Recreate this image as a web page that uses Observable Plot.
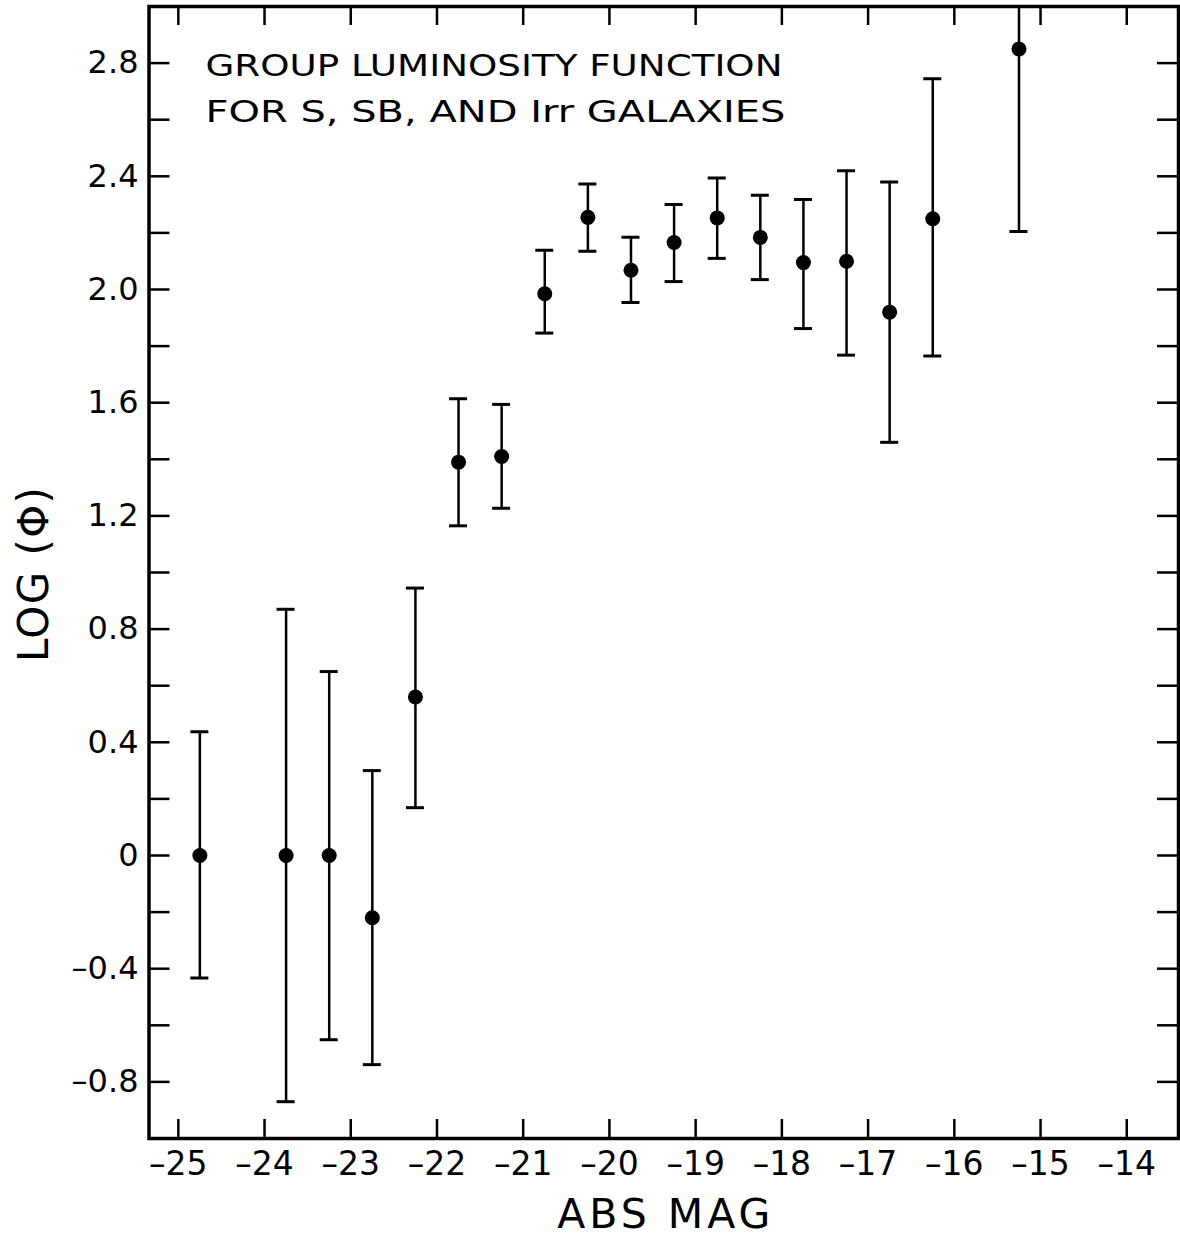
<!DOCTYPE html>
<html>
<head>
<meta charset="utf-8">
<script src="https://cdn.jsdelivr.net/npm/d3@7"></script>
<script src="https://cdn.jsdelivr.net/npm/@observablehq/plot@0.6"></script>
<style>
  html, body { margin: 0; padding: 0; background: #fff; }
  #chart svg { display: block; }
</style>
</head>
<body>
<div id="chart"></div>
<script>
// ---- data ----
const absMag = [-24.75, -23.75, -23.25, -22.75, -22.25, -21.75, -21.25, -20.75, -20.25,
                -19.75, -19.25, -18.75, -18.25, -17.75, -17.25, -16.75, -16.25, -15.25];
const logPhi = [0, 0, 0, -0.22, 0.56, 1.39, 1.41, 1.985, 2.255,
                2.068, 2.166, 2.253, 2.184, 2.095, 2.10, 1.92, 2.25, 2.85];
const errHigh = [0.437, 0.87, 0.65, 0.30, 0.945, 1.614, 1.594, 2.139, 2.373,
                 2.185, 2.30, 2.394, 2.333, 2.318, 2.42, 2.38, 2.745, 3.5];
const errLow = [-0.433, -0.87, -0.651, -0.739, 0.169, 1.165, 1.227, 1.846, 2.135,
                1.954, 2.028, 2.11, 2.035, 1.862, 1.768, 1.46, 1.765, 2.205];

const xTicks = [-25, -24, -23, -22, -21, -20, -19, -18, -17, -16, -15, -14];
const yLabelTicks = [-0.8, -0.4, 0, 0.4, 0.8, 1.2, 1.6, 2.0, 2.4, 2.8];
const yMinorTicks = [-0.8, -0.6, -0.4, -0.2, 0, 0.2, 0.4, 0.6, 0.8, 1.0, 1.2, 1.4, 1.6,
                     1.8, 2.0, 2.2, 2.4, 2.6, 2.8];
const xDomain = [-25.34, -13.4];
const yDomain = [-1, 3];

const titleLine1 = "GROUP LUMINOSITY FUNCTION";
const titleLine2 = "FOR S, SB, AND Irr GALAXIES";
const xLabel = "ABS MAG";
const yLabel = "LOG (\u03A6)";

const points = absMag.map((m, i) => ({x: m, y: logPhi[i], hi: errHigh[i], lo: errLow[i]}));

const fmtX = d => String(d).replace("-", "\u2013");
const fmtY = d => d === 0 ? "0" : d.toFixed(1).replace("-", "\u2013");

const font = "DejaVu Sans";

const chart = Plot.plot({
  width: 1180,
  height: 1238,
  marginLeft: 148.5,
  marginRight: 2,
  marginTop: 6,
  marginBottom: 100,
  style: {fontFamily: font, background: "white", color: "black"},
  x: {domain: xDomain, axis: null},
  y: {domain: yDomain, axis: null},
  marks: [
    Plot.frame({stroke: "black", strokeWidth: 3.5}),
    // inward ticks: bottom and top
    Plot.ruleX(xTicks, {x: d => d, y1: yDomain[0], y2: yDomain[0], insetTop: -19, stroke: "black", strokeWidth: 2.5}),
    Plot.ruleX(xTicks, {x: d => d, y1: yDomain[1], y2: yDomain[1], insetBottom: -19, stroke: "black", strokeWidth: 2.5}),
    // inward ticks: left and right
    Plot.ruleY(yMinorTicks, {y: d => d, x1: xDomain[0], x2: xDomain[0], insetRight: -21, stroke: "black", strokeWidth: 2.5}),
    Plot.ruleY(yMinorTicks, {y: d => d, x1: xDomain[1], x2: xDomain[1], insetLeft: -21, stroke: "black", strokeWidth: 2.5}),
    // tick labels
    Plot.axisX({ticks: xTicks, tickSize: 0, tickPadding: 13, tickFormat: fmtX, fontSize: 33, label: null}),
    Plot.axisY({ticks: yLabelTicks, tickSize: 0, tickPadding: 10.5, tickFormat: fmtY, fontSize: 32, label: null}),
    // error bars
    Plot.ruleX(points, {x: "x", y1: "lo", y2: "hi", stroke: "black", strokeWidth: 2.5, clip: true}),
    Plot.ruleY(points, {y: "hi", x1: "x", x2: "x", insetLeft: -9, insetRight: -9, stroke: "black", strokeWidth: 3, clip: true}),
    Plot.ruleY(points, {y: "lo", x1: "x", x2: "x", insetLeft: -9, insetRight: -9, stroke: "black", strokeWidth: 3, clip: true}),
    Plot.dot(points, {x: "x", y: "y", r: 7.5, fill: "black", stroke: null}),
    // annotation
    Plot.text([titleLine1], {text: d => d, frameAnchor: "top-left", textAnchor: "start", lineAnchor: "top",
      dx: 56.5, dy: 47, fontSize: 31, fill: "black"}),
    Plot.text([titleLine2], {text: d => d, frameAnchor: "top-left", textAnchor: "start", lineAnchor: "top",
      dx: 56.5, dy: 93, fontSize: 31, fill: "black"}),
    // axis titles
    Plot.text([xLabel], {text: d => d, frameAnchor: "bottom", textAnchor: "middle", lineAnchor: "top",
      dy: 60, fontSize: 41, fill: "black"}),
    Plot.text([yLabel], {text: d => d, frameAnchor: "left", textAnchor: "middle", lineAnchor: "top",
      rotate: -90, dx: -131.3, dy: 2, fontSize: 42, fill: "black"})
  ]
});

const lengths = new Map([[titleLine1, 577], [titleLine2, 580], [xLabel, 213], [yLabel, 175]]);
const stretch = new Set([titleLine1, titleLine2]);
d3.select(chart).selectAll("text").each(function() {
  const t = this.textContent;
  if (lengths.has(t)) {
    d3.select(this).attr("textLength", lengths.get(t))
      .attr("lengthAdjust", stretch.has(t) ? "spacingAndGlyphs" : "spacing");
  }
});

document.getElementById("chart").appendChild(chart);
</script>
</body>
</html>
